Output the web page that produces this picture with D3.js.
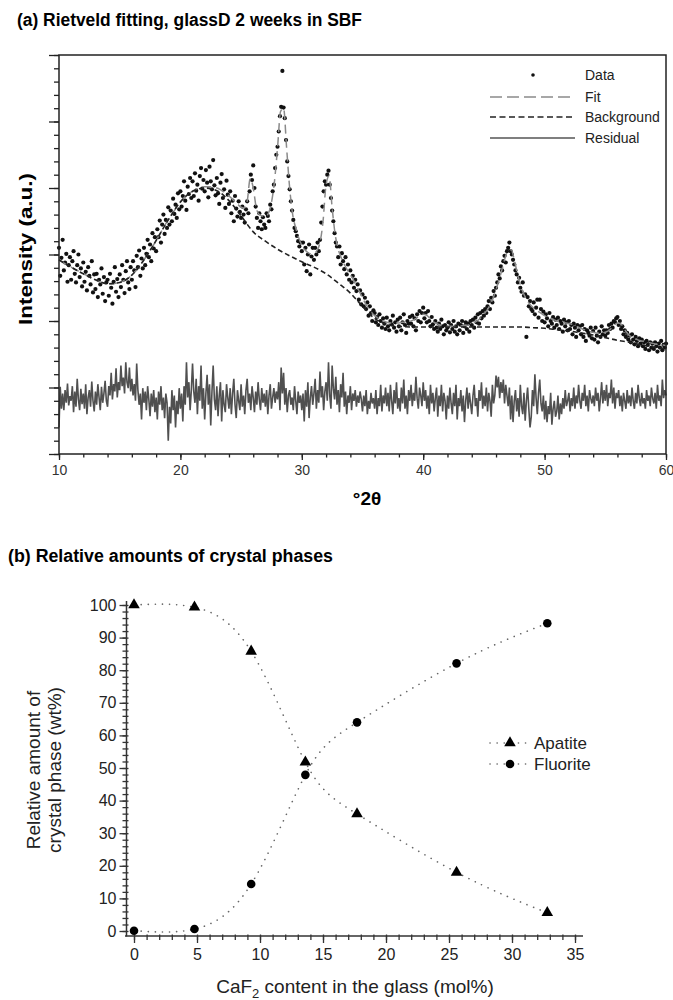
<!DOCTYPE html>
<html><head><meta charset="utf-8">
<script src="https://cdn.jsdelivr.net/npm/d3@7/dist/d3.min.js"></script>
<style>body{margin:0;background:#fff}text{font-family:"Liberation Sans",Arial,sans-serif}</style>
</head><body><svg id="c" width="673" height="1000"></svg>
<script>
// ---------- Panel (a): Rietveld fit, XRD pattern ----------
const scanStart = 10;      // °2θ of first observed point
const scanStep = 0.1;      // °2θ step of observed/residual series
const fitStep = 0.25;      // °2θ step of calculated fit series
const bgStep = 1;          // °2θ step of background series
const xTicksA = [10, 20, 30, 40, 50, 60];

const observed = [
310,268,295,322,276,288,301,259,284,296,
262,290,305,271,258,284,300,266,279,252,
288,259,274,246,281,268,255,290,243,270,
248,271,236,262,255,279,241,266,230,258,
262,238,271,250,226,259,281,244,263,236,
270,251,284,262,242,275,290,258,248,281,
262,290,276,251,298,281,306,268,294,279,
310,284,301,322,296,315,290,332,309,326,
305,338,326,351,318,345,360,331,352,340,
371,345,366,350,384,361,375,355,392,368,
395,372,388,410,381,367,402,391,415,385,
410,388,422,396,405,381,418,430,399,412,
395,427,408,386,432,410,398,442,404,389,
415,392,376,408,421,385,398,370,411,390,
376,395,362,381,350,388,369,357,380,364,
355,372,360,348,368,380,362,395,420,412,
434,400,372,355,340,362,350,338,356,345,
340,362,358,350,375,368,395,405,430,450,
462,485,508,522,576,521,505,472,440,418,
398,380,366,352,340,335,328,320,312,318,
305,318,285,310,275,300,315,270,297,310,
292,310,300,318,305,322,348,372,395,410,
405,420,426,405,385,366,350,332,318,312,
296,312,285,302,290,278,296,270,285,262,
276,258,268,250,262,245,255,232,246,225,
240,222,235,218,228,208,222,212,200,216,
212,198,206,194,210,200,190,204,196,188,
205,192,186,200,195,208,190,198,184,202,
192,205,186,198,210,194,182,200,196,206,
196,208,192,204,186,210,200,215,198,212,
220,204,212,198,215,200,192,206,195,188,
200,190,184,196,188,202,192,180,194,186,
190,198,183,194,188,200,184,192,180,196,
186,194,200,182,192,198,188,196,184,200,
194,202,190,205,198,210,196,212,204,215,
208,218,212,222,230,218,235,228,245,238,
250,258,270,264,282,276,290,298,288,305,
310,318,305,300,292,285,276,270,258,265,
250,244,258,238,240,176,236,222,230,218,
215,228,210,220,232,205,232,218,200,214,
198,210,204,192,212,200,196,206,190,202,
194,205,188,200,196,184,202,192,198,186,
200,188,194,180,196,190,176,194,186,192,
180,194,176,188,170,186,182,178,190,174,
185,172,190,178,168,184,176,192,180,186,
178,186,182,194,188,196,190,200,198,204,
206,194,200,188,192,180,186,176,182,172,
178,168,180,172,165,176,170,162,174,166,
172,162,168,158,170,164,156,168,160,166,
158,168,162,154,166,160,170,156,164,160,
166];

const fitted = [
292,289,286,283, 281,278,276,274, 271,269,266,264, 262,260,258,257,
256,256,256,257, 258,260,262,265, 269,274,279,285, 292,299,306,313,
321,329,337,345, 352,359,366,373, 379,384,388,392, 395,398,400,401,
402,402,402,401, 400,398,395,392, 388,384,379,375, 371,370,380,414,
400,370,360,358, 357,362,378,410, 460,515,520,460, 400,360,340,325,
314,307,303,301, 302,306,318,350, 405,418,370,330, 308,295,285,277,
270,262,253,244, 235,226,219,213, 208,205,202,200, 198,197,197,197,
197,198,198,199, 200,202,205,208, 210,209,205,200, 197,195,193,192,
192,192,192,192, 192,193,193,194, 196,198,201,205, 210,216,224,234,
247,262,278,295, 306,307,292,272, 255,242,233,226, 221,217,214,211,
208,206,204,202, 200,199,198,197, 196,195,193,191, 189,187,185,184,
183,182,182,182, 183,185,189,194, 197,196,190,183, 178,175,173,171,
170,169,168,167, 166,165,164,164, 163];

const background = [
292,281,271,262,256,258,269,292,321,352,379,395,400,396,381,358,334,320,308,298,
289,281,271,257,242,222,204,195,192,191,191,191,191,191,191,191,191,191,191,190,
189,187,185,182,179,175,171,168,164,161,158];

const residual = [
40,101,68,91,66,96,77,106,73,87,
80,102,63,94,71,113,82,66,98,75,
91,68,105,60,85,96,71,109,80,64,
94,74,105,85,66,101,77,91,110,80,
71,102,88,122,82,105,94,129,85,108,
96,133,102,115,91,138,108,99,130,94,
113,88,105,80,136,96,74,91,52,99,
77,94,66,102,82,57,91,71,96,63,
85,52,94,74,102,66,85,54,91,77,
20,71,46,96,66,88,40,80,60,99,
68,91,49,102,74,138,85,108,66,96,
136,94,77,113,60,102,80,133,68,99,
52,91,119,74,105,43,94,133,82,66,
102,57,88,108,49,96,74,63,105,85,
68,99,60,91,113,74,54,96,80,66,
105,71,88,60,96,113,77,91,66,102,
85,63,94,74,108,82,66,99,77,91,
71,96,60,88,105,68,85,99,77,94,
82,108,66,130,91,122,74,99,63,88,
96,74,85,66,102,80,60,94,77,88,
66,91,49,96,71,108,54,85,102,74,
91,113,68,96,77,124,85,102,66,94,
108,80,138,88,68,133,99,82,116,74,
96,63,105,85,122,71,94,60,88,77,
102,66,91,80,96,71,88,77,94,82,
64,88,72,96,60,80,68,92,76,84,
68,96,60,84,72,104,64,88,76,100,
72,92,64,104,80,60,96,76,108,68,
84,64,100,76,112,68,88,60,96,80,
104,72,92,80,116,84,68,100,88,72,
108,80,96,68,88,60,104,76,92,64,
84,100,56,88,72,104,64,92,80,52,
88,68,100,76,60,92,72,104,52,84,
72,96,64,88,48,80,100,68,92,76,
60,88,104,72,84,56,96,80,108,68,
88,72,100,64,92,80,56,104,76,88,
118,100,116,84,108,92,112,76,104,88,
72,100,52,88,48,80,96,64,84,56,
104,72,60,92,50,80,100,68,40,56,
96,72,120,84,60,92,112,76,64,88,
52,80,48,72,60,92,44,68,80,56,
64,88,52,76,60,84,68,96,72,80,
92,64,84,72,100,68,88,76,104,80,
68,92,80,104,72,88,64,96,84,76,
88,72,100,80,92,64,84,108,76,96,
80,104,72,92,84,112,76,100,68,92,
84,96,72,88,64,92,80,68,96,76,
88,72,100,80,68,92,76,104,84,72,
92,76,84,68,96,80,88,72,100,84,
76,92,68,104,80,88,72,112,84,96,
88];

const legendA = ["Data", "Fit", "Background", "Residual"];

// ---------- Panel (b): relative amounts of crystal phases ----------
const cafContent = [0, 4.8, 9.3, 13.6, 17.7, 25.6, 32.8];
const apatite =    [100, 99.3, 85.8, 51.8, 35.9, 18.0, 5.6];
const fluorite =   [0.1, 0.6, 14.4, 47.9, 64.0, 82.1, 94.4];
const xTicksB = [0, 5, 10, 15, 20, 25, 30, 35];
const yTicksB = [0, 10, 20, 30, 40, 50, 60, 70, 80, 90, 100];
const seriesB = ["Apatite", "Fluorite"];

const svg = d3.select("#c");

// ================= Panel (a) =================
const xa = d3.scaleLinear().domain([10, 60]).range([59, 666]);
const ya = d3.scaleLinear().domain([0, 600]).range([454, 55]);

svg.append("text").attr("x", 17).attr("y", 26)
  .attr("font-size", 18).attr("font-weight", "bold")
  .attr("textLength", 345).attr("lengthAdjust", "spacingAndGlyphs")
  .text("(a) Rietveld fitting, glassD 2 weeks in SBF");

const obsPts = observed.map((v, i) => [scanStart + i * scanStep, v]);
const fitPts = fitted.map((v, i) => [scanStart + i * fitStep, v]);
const bgPts = background.map((v, i) => [scanStart + i * bgStep, v]);
const resPts = residual.map((v, i) => [scanStart + i * scanStep, v]);

const gA = svg.append("g");
gA.selectAll("circle.obs").data(obsPts).join("circle")
  .attr("class", "obs")
  .attr("cx", d => xa(d[0])).attr("cy", d => ya(d[1])).attr("r", 2.1).attr("fill", "#111");

gA.append("path").datum(fitPts)
  .attr("d", d3.line().x(d => xa(d[0])).y(d => ya(d[1])).curve(d3.curveMonotoneX))
  .attr("fill", "none").attr("stroke", "#8a8a8a").attr("stroke-width", 1.5)
  .attr("stroke-dasharray", "9,5");
gA.append("path").datum(bgPts)
  .attr("d", d3.line().x(d => xa(d[0])).y(d => ya(d[1])).curve(d3.curveMonotoneX))
  .attr("fill", "none").attr("stroke", "#222").attr("stroke-width", 1.6)
  .attr("stroke-dasharray", "5,3");
gA.append("path").datum(resPts)
  .attr("d", d3.line().x(d => xa(d[0])).y(d => ya(d[1])))
  .attr("fill", "none").attr("stroke", "#505050").attr("stroke-width", 1.6);

// frame
svg.append("rect").attr("x", 59).attr("y", 55).attr("width", 607).attr("height", 399)
  .attr("fill", "none").attr("stroke", "#222").attr("stroke-width", 1.5);

// y ticks (no labels)
const yMajA = svg.append("g").attr("transform", "translate(59,0)")
  .call(d3.axisLeft(ya).tickValues(d3.range(0, 601, 100)).tickSize(10).tickFormat(""));
const yMinA = svg.append("g").attr("transform", "translate(59,0)")
  .call(d3.axisLeft(ya).tickValues(d3.range(0, 601, 20)).tickSize(5).tickFormat(""));
// x ticks
const xMajA = svg.append("g").attr("transform", "translate(0,454)")
  .call(d3.axisBottom(xa).tickValues(xTicksA).tickSize(6).tickPadding(5).tickFormat(d3.format("d")));
const xMinA = svg.append("g").attr("transform", "translate(0,454)")
  .call(d3.axisBottom(xa).tickValues(d3.range(10, 61, 2)).tickSize(3.5).tickFormat(""));
[yMajA, yMinA, xMajA, xMinA].forEach(g => {
  g.select(".domain").remove();
  g.selectAll("line").attr("stroke", "#222").attr("stroke-width", 1.3);
});
xMajA.selectAll("text").attr("font-size", 14).attr("fill", "#333")
  .attr("font-family", "Liberation Sans, Arial, sans-serif");

svg.append("text").attr("transform", "translate(32,249) rotate(-90)")
  .attr("text-anchor", "middle").attr("font-size", 18).attr("font-weight", "bold")
  .attr("textLength", 152).attr("lengthAdjust", "spacingAndGlyphs")
  .text("Intensity (a.u.)");
svg.append("text").attr("x", 367).attr("y", 505).attr("text-anchor", "middle")
  .attr("font-size", 19).attr("font-weight", "bold").text("°2θ");

// legend (a)
const legAx0 = 490, legAx1 = 575, legAtx = 585, legAy = [75, 97, 117, 138];
svg.append("circle").attr("cx", 533).attr("cy", legAy[0]).attr("r", 1.8).attr("fill", "#111");
svg.append("line").attr("x1", legAx0).attr("x2", legAx1).attr("y1", legAy[1]).attr("y2", legAy[1])
  .attr("stroke", "#8a8a8a").attr("stroke-width", 1.5).attr("stroke-dasharray", "12,5");
svg.append("line").attr("x1", legAx0).attr("x2", 572).attr("y1", legAy[2]).attr("y2", legAy[2])
  .attr("stroke", "#222").attr("stroke-width", 1.6).attr("stroke-dasharray", "6,3.5");
svg.append("line").attr("x1", legAx0).attr("x2", legAx1).attr("y1", legAy[3]).attr("y2", legAy[3])
  .attr("stroke", "#555").attr("stroke-width", 1.3);
svg.selectAll("text.legA").data(legendA).join("text").attr("class", "legA")
  .attr("x", legAtx).attr("y", (d, i) => legAy[i] + 5).attr("font-size", 14).attr("fill", "#222")
  .text(d => d);

// ================= Panel (b) =================
svg.append("text").attr("x", 8).attr("y", 562)
  .attr("font-size", 18).attr("font-weight", "bold")
  .attr("textLength", 325).attr("lengthAdjust", "spacingAndGlyphs")
  .text("(b) Relative amounts of crystal phases");

const xb = d3.scaleLinear().domain([0, 35]).range([134, 575]);
const yb = d3.scaleLinear().domain([0, 100]).range([931, 605]);

// axis lines
svg.append("line").attr("x1", 126.5).attr("x2", 126.5).attr("y1", 601).attr("y2", 936.5)
  .attr("stroke", "#333").attr("stroke-width", 1.5);
svg.append("line").attr("x1", 125).attr("x2", 583).attr("y1", 936).attr("y2", 936)
  .attr("stroke", "#333").attr("stroke-width", 1.5);

const yMajB = svg.append("g").attr("transform", "translate(126.5,0)")
  .call(d3.axisLeft(yb).tickValues(yTicksB).tickSize(7).tickPadding(3));
const yMinB = svg.append("g").attr("transform", "translate(126.5,0)")
  .call(d3.axisLeft(yb).tickValues(d3.range(0, 101, 2)).tickSize(4).tickFormat(""));
const xMajB = svg.append("g").attr("transform", "translate(0,936)")
  .call(d3.axisBottom(xb).tickValues(xTicksB).tickSize(7).tickPadding(6));
const xMinB = svg.append("g").attr("transform", "translate(0,936)")
  .call(d3.axisBottom(xb).tickValues(d3.range(0, 36, 1)).tickSize(4).tickFormat(""));
[yMajB, yMinB, xMajB, xMinB].forEach(g => {
  g.select(".domain").remove();
  g.selectAll("line").attr("stroke", "#333").attr("stroke-width", 1.3);
});
yMinB.selectAll("line").attr("x2", -4).attr("x1", 2);
xMinB.selectAll("line").attr("y1", -1.5);
[yMajB, xMajB].forEach(g => g.selectAll("text").attr("font-size", 16).attr("fill", "#222")
  .attr("font-family", "Liberation Sans, Arial, sans-serif"));

// curves
const lineB = d3.line().x(d => xb(d[0])).y(d => yb(d[1])).curve(d3.curveNatural);
const apPts = cafContent.map((c, i) => [c, apatite[i]]);
const flPts = cafContent.map((c, i) => [c, fluorite[i]]);
[apPts, flPts].forEach(p => svg.append("path").datum(p).attr("d", lineB)
  .attr("fill", "none").attr("stroke", "#666").attr("stroke-width", 1.6)
  .attr("stroke-linecap", "round").attr("stroke-dasharray", "0.1,7"));

const tri = d3.symbol().type(d3.symbolTriangle).size(58);
const circ = d3.symbol().type(d3.symbolCircle).size(58);
svg.selectAll("path.ap").data(apPts).join("path").attr("class", "ap")
  .attr("d", tri).attr("transform", d => `translate(${xb(d[0])},${yb(d[1])})`).attr("fill", "#000");
svg.selectAll("path.fl").data(flPts).join("path").attr("class", "fl")
  .attr("d", circ).attr("transform", d => `translate(${xb(d[0])},${yb(d[1])})`).attr("fill", "#000");

// legend (b)
const legBy = [743, 764];
seriesB.forEach((s, i) => {
  svg.append("line").attr("x1", 490).attr("x2", 527).attr("y1", legBy[i]).attr("y2", legBy[i])
    .attr("stroke", "#666").attr("stroke-width", 1.6).attr("stroke-linecap", "round")
    .attr("stroke-dasharray", "0.1,7");
  svg.append("path").attr("d", i === 0 ? tri : circ)
    .attr("transform", `translate(510,${legBy[i]})`).attr("fill", "#000");
  svg.append("text").attr("x", 534).attr("y", legBy[i] + 6).attr("font-size", 17).attr("fill", "#222").text(s);
});

// axis titles (b)
const yt = svg.append("text").attr("transform", "translate(0,770) rotate(-90)")
  .attr("text-anchor", "middle").attr("font-size", 19).attr("fill", "#222");
yt.append("tspan").attr("x", 0).attr("y", 40).text("Relative amount of");
yt.append("tspan").attr("x", 0).attr("y", 61).text("crystal phase (wt%)");

const xt = svg.append("text").attr("x", 355).attr("y", 993).attr("text-anchor", "middle")
  .attr("font-size", 19).attr("fill", "#222");
xt.append("tspan").text("CaF");
xt.append("tspan").attr("font-size", 13).attr("dy", 5).text("2");
xt.append("tspan").attr("dy", -5).text(" content in the glass (mol%)");
</script></body></html>
